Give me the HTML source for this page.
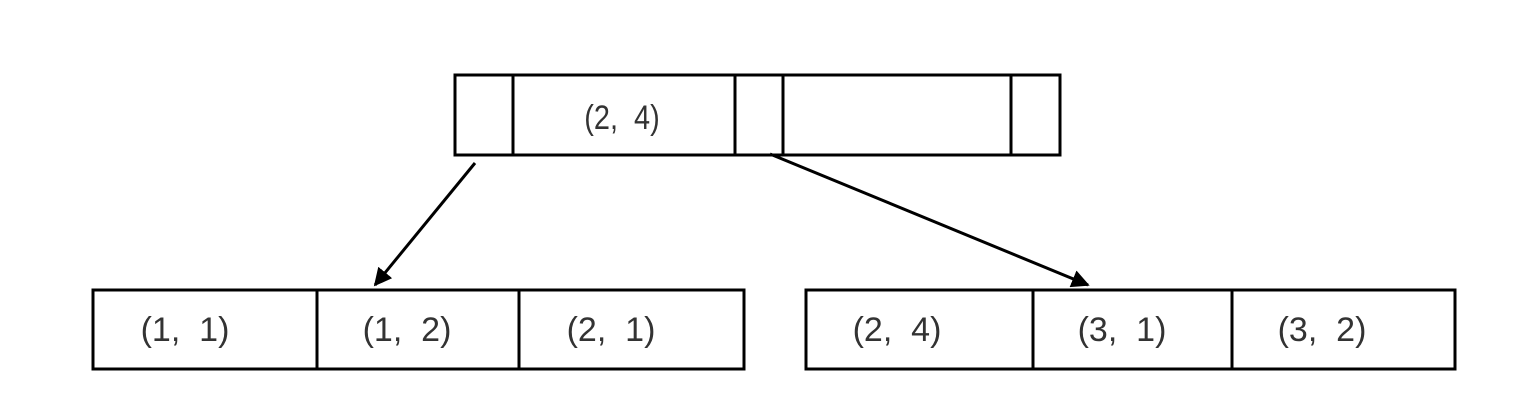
<!DOCTYPE html>
<html><head><meta charset="utf-8"><style>
body{margin:0;background:#fff;}
svg{display:block}
text{font-family:"Liberation Sans","Noto Sans CJK SC",sans-serif;font-size:34px;fill:#333;text-anchor:middle;dominant-baseline:central;white-space:pre}
</style></head><body>
<svg width="1518" height="420" xml:space="preserve">
<defs><marker id="ah" viewBox="0 0 10 10" refX="9" refY="5" markerWidth="6" markerHeight="6" orient="auto"><path d="M0,0 L10,5 L0,10 z" fill="#000"/></marker></defs>
<g fill="none" stroke="#000" stroke-width="3">
<rect x="455" y="75" width="605" height="80"/>
<line x1="513" y1="75" x2="513" y2="155"/><line x1="735" y1="75" x2="735" y2="155"/>
<line x1="783" y1="75" x2="783" y2="155"/><line x1="1011" y1="75" x2="1011" y2="155"/>
</g>
<text x="622" y="117" transform="translate(622,0) scale(0.85,1) translate(-622,0)">(2,  4)</text>
<g fill="none" stroke="#000" stroke-width="3">
<rect x="93" y="290" width="651" height="79"/>
<line x1="317" y1="290" x2="317" y2="369"/><line x1="519" y1="290" x2="519" y2="369"/>
</g>
<text x="185" y="330">(1,  1)</text>
<text x="407" y="330">(1,  2)</text>
<text x="611" y="330">(2,  1)</text>
<g fill="none" stroke="#000" stroke-width="3">
<rect x="806" y="290" width="649" height="79"/>
<line x1="1033" y1="290" x2="1033" y2="369"/><line x1="1232" y1="290" x2="1232" y2="369"/>
</g>
<text x="897" y="330">(2,  4)</text>
<text x="1122" y="330">(3,  1)</text>
<text x="1322" y="330">(3,  2)</text>
<line x1="475" y1="163" x2="375" y2="285" stroke="#000" stroke-width="3" marker-end="url(#ah)"/>
<line x1="770" y1="154" x2="1088" y2="285" stroke="#000" stroke-width="3" marker-end="url(#ah)"/>
</svg>
</body></html>
